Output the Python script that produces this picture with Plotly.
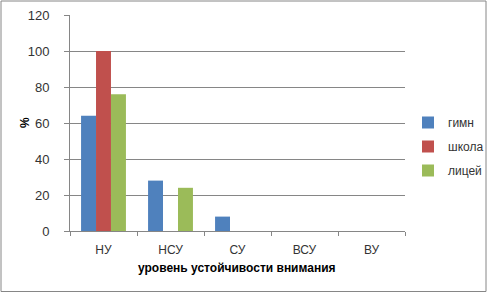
import plotly.graph_objects as go

categories = ["НУ", "НСУ", "СУ", "ВСУ", "ВУ"]
gimn = [64, 28, 8, 0, 0]
shkola = [100, 0, 0, 0, 0]
litsey = [76, 24, 0, 0, 0]
series_names = ["гимн", "школа", "лицей"]
colors = ["#4F81BD", "#C0504D", "#9BBB59"]

W, H = 488, 293
L, R, T, B = 70, 83, 15, 62
pw, ph = W - L - R, H - T - B

fig = go.Figure()
for name, vals, c in zip(series_names, [gimn, shkola, litsey], colors):
    fig.add_trace(go.Bar(x=categories, y=vals, name=name, marker_color=c,
                         marker_line_width=0, legendgroup=name))

font = "Liberation Sans"
fig.update_layout(
    width=W, height=H,
    margin=dict(l=L, r=R, t=T, b=B, autoexpand=False),
    paper_bgcolor="white", plot_bgcolor="white",
    barmode="group", bargap=0.33, bargroupgap=0,
    font=dict(family=font, size=12, color="#333333"),
    legend=dict(xref="container", yref="container",
                x=408 / W, y=1 - 108 / H, xanchor="left", yanchor="top",
                font=dict(size=12, color="#333333"), tracegroupgap=5,
                itemwidth=30, bgcolor="rgba(0,0,0,0)"),
    xaxis=dict(
        showline=True, linecolor="#868686", linewidth=1, automargin=False,
        ticks="outside", tickson="boundaries", ticklen=4, tickcolor="#868686",
        tickfont=dict(size=12, color="#333333"), showgrid=False,
        ticklabelstandoff=8,
    ),
    yaxis=dict(
        range=[0, 120], dtick=20, showline=True, linecolor="#868686", linewidth=1,
        ticks="outside", ticklen=5, tickcolor="#868686", automargin=False,
        showgrid=True, gridcolor="#868686", gridwidth=1,
        tickfont=dict(size=13, color="#333333"), zeroline=False,
        ticklabelstandoff=12,
    ),
    annotations=[
        dict(text="<b>%</b>", xref="paper", yref="paper",
             x=(25 - L) / pw, y=(231 - 123) / ph, showarrow=False, textangle=-90,
             xanchor="center", yanchor="middle", font=dict(size=12, color="#000000")),
        dict(text="<b>уровень устойчивости внимания</b>", xref="paper", yref="paper",
             x=(237 - L) / pw, y=(231 - 268) / ph, showarrow=False,
             xanchor="center", yanchor="middle", font=dict(size=12, color="#000000")),
    ],
    shapes=[dict(type="rect", xref="paper", yref="paper",
                 x0=(1 - L) / pw, x1=(486 - L) / pw,
                 y0=(231 - 291.5) / ph, y1=(231 - 1) / ph,
                 line=dict(color="#868686", width=1), fillcolor="rgba(0,0,0,0)", layer="below")],
)

fig.write_html("out.html", config={"displayModeBar": False},
               post_script="document.body.style.margin='0';document.body.style.padding='0';")
